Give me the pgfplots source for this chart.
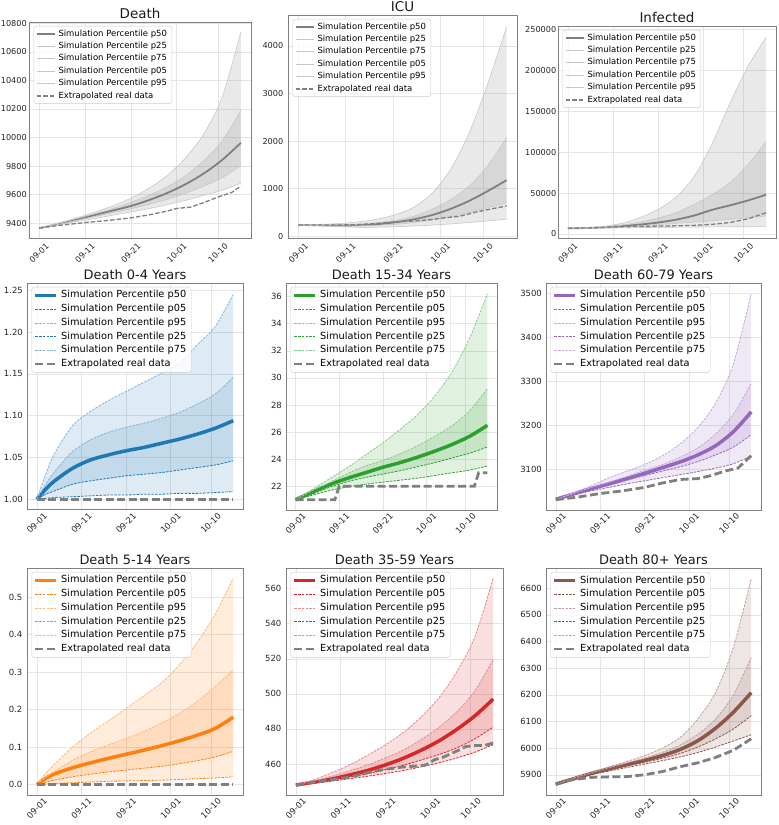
\documentclass[border=0pt]{standalone}
\usepackage{pgfplots}
\pgfplotsset{compat=1.18}
\usepackage{pgfplotstable}
\usepgfplotslibrary{fillbetween}
\usepackage{fontspec}
\setmainfont{DejaVu Sans}

\definecolor{tabblue}{HTML}{1F77B4}
\definecolor{taborange}{HTML}{FF7F0E}
\definecolor{tabgreen}{HTML}{2CA02C}
\definecolor{tabred}{HTML}{D62728}
\definecolor{tabpurple}{HTML}{9467BD}
\definecolor{tabbrown}{HTML}{8C564B}
\definecolor{tabgray}{HTML}{7F7F7F}

% ---------------- data ----------------
\pgfplotstableread{
x p50 p25 p75 p05 p95
0 9365 9365 9365 9365 9365
4 9393 9390 9397 9387 9400
8 9424 9418 9430 9410 9435
12 9456 9445 9465 9432 9475
16 9488 9472 9502 9455 9520
20 9520 9500 9545 9478 9575
24 9562 9532 9595 9502 9645
28 9612 9568 9655 9530 9735
32 9674 9610 9735 9560 9860
36 9750 9660 9840 9595 10030
40 9845 9720 9980 9632 10290
44 9963 9805 10190 9680 10740
}\Tdeath

\pgfplotstableread{
x p50 p25 p75 p05 p95
0 240 238 242 235 245
4 232 228 240 222 250
8 228 220 240 205 265
12 232 220 250 192 295
16 250 228 280 190 350
20 290 250 330 200 440
24 350 285 410 215 590
28 440 340 560 235 880
32 570 410 760 260 1380
36 740 500 1050 290 2150
40 950 600 1480 325 3200
44 1180 700 2080 360 4400
}\Ticu

\pgfplotstableread{
x p50 p25 p75 p05 p95
0 7000 7000 7000 7000 7000
4 7300 7200 7500 7000 7800
8 8200 7800 8800 7200 9500
12 9600 8700 11000 7500 13000
16 11500 10000 14500 7800 20000
20 14000 11500 19500 8100 30000
24 17500 13000 26000 8300 45000
28 22500 14500 36000 8500 70000
32 29500 16000 48000 8700 110000
36 35000 17800 63000 8800 160000
40 41000 19800 85000 8900 205000
44 48000 22000 113000 9000 240000
}\Tinf

\pgfplotstableread{
x p50 p05 p95 p25 p75
0 1.000 1.000 1.000 1.000 1.000
2 1.012 1.001 1.030 1.006 1.018
4 1.022 1.002 1.055 1.010 1.033
8 1.037 1.003 1.088 1.018 1.057
12 1.047 1.004 1.105 1.022 1.071
16 1.053 1.005 1.118 1.025 1.080
20 1.058 1.005 1.129 1.028 1.086
24 1.062 1.006 1.140 1.030 1.091
28 1.067 1.006 1.151 1.032 1.097
32 1.072 1.007 1.163 1.035 1.104
36 1.078 1.007 1.185 1.038 1.114
40 1.085 1.008 1.207 1.041 1.126
44 1.094 1.009 1.245 1.046 1.146
}\Tzero

\pgfplotstableread{
x p50 p05 p95 p25 p75
0 21.0 21.0 21.0 21.0 21.0
4 21.6 21.35 21.8 21.45 21.7
8 22.15 21.7 22.6 21.95 22.3
12 22.6 21.95 23.4 22.35 22.95
16 23.0 22.15 24.3 22.65 23.5
20 23.4 22.3 25.2 22.9 23.9
24 23.75 22.45 26.2 23.15 24.4
28 24.15 22.6 27.3 23.45 25.0
32 24.6 22.8 28.7 23.75 25.7
36 25.1 23.0 30.5 24.1 26.5
40 25.7 23.2 33.0 24.45 27.6
44 26.5 23.5 36.2 24.9 29.2
}\Tfifteen

\pgfplotstableread{
x p50 p05 p95 p25 p75
0 3031 3031 3031 3031 3031
4 3043 3041 3046 3042 3044
8 3055 3050 3062 3053 3058
12 3066 3058 3080 3063 3070
16 3078 3066 3095 3074 3083
20 3090 3073 3110 3085 3097
24 3103 3080 3130 3095 3110
28 3116 3087 3157 3105 3127
32 3132 3094 3195 3117 3148
36 3153 3102 3250 3132 3180
40 3185 3112 3340 3150 3225
44 3230 3130 3500 3178 3295
}\Tsixty

\pgfplotstableread{
x p50 p05 p95 p25 p75
0 0 0 0 0 0
2 0.017 0.0015 0.030 0.007 0.020
4 0.029 0.003 0.055 0.012 0.036
8 0.045 0.005 0.100 0.021 0.065
12 0.058 0.007 0.137 0.028 0.087
16 0.070 0.009 0.170 0.034 0.106
20 0.081 0.010 0.203 0.039 0.123
24 0.092 0.011 0.237 0.044 0.142
28 0.104 0.012 0.272 0.049 0.165
32 0.117 0.014 0.320 0.056 0.190
36 0.132 0.016 0.380 0.064 0.222
40 0.150 0.018 0.455 0.074 0.262
44 0.180 0.021 0.550 0.089 0.305
}\Tfive

\pgfplotstableread{
x p50 p05 p95 p25 p75
0 448.0 448.0 448.0 448.0 448.0
4 449.6 449.0 451.0 449.3 450.3
8 451.4 450.2 455.0 450.8 453.0
12 453.7 451.6 459.5 452.5 456.0
16 456.3 453.0 465.0 454.5 459.5
20 459.5 454.6 471.0 456.8 463.5
24 463.3 456.3 478.0 459.3 468.0
28 467.9 458.4 487.0 462.3 474.0
32 473.3 460.7 498.0 465.5 481.0
36 479.9 463.5 513.0 469.3 490.0
40 487.6 466.8 533.0 474.5 502.0
44 497.0 471.0 566.0 481.0 519.5
}\Tthirtyfive

\pgfplotstableread{
x p50 p05 p95 p25 p75
0 5865 5865 5865 5865 5865
4 5885 5883 5888 5884 5886
8 5905 5900 5910 5903 5907
12 5922 5914 5930 5919 5926
16 5938 5927 5950 5933 5944
20 5954 5940 5972 5947 5962
24 5972 5953 6000 5962 5984
28 5995 5967 6040 5980 6012
32 6028 5984 6110 6004 6052
36 6075 6004 6210 6035 6110
40 6135 6027 6380 6072 6200
44 6208 6050 6637 6122 6340
}\Teighty

% ---------------- plot macros ----------------
\newcommand{\topplots}[2]{%
  \addplot[draw=none, smooth, name path=lo5, forget plot] table[x=x,y=p05]{#1};
  \addplot[draw=none, smooth, name path=hi95, forget plot] table[x=x,y=p95]{#1};
  \addplot[draw=none, smooth, name path=lo25, forget plot] table[x=x,y=p25]{#1};
  \addplot[draw=none, smooth, name path=hi75, forget plot] table[x=x,y=p75]{#1};
  \addplot[fill=tabgray, fill opacity=0.17, draw=none, forget plot] fill between[of=lo5 and hi95];
  \addplot[fill=tabgray, fill opacity=0.17, draw=none, forget plot] fill between[of=lo25 and hi75];
  \addplot[tabgray, line width=1.8bp, smooth] table[x=x,y=p50]{#1};
  \addlegendentry{Simulation Percentile p50}
  \addplot[black!22, line width=0.6bp, smooth] table[x=x,y=p25]{#1};
  \addlegendentry{Simulation Percentile p25}
  \addplot[black!22, line width=0.6bp, smooth] table[x=x,y=p75]{#1};
  \addlegendentry{Simulation Percentile p75}
  \addplot[black!22, line width=0.6bp, smooth] table[x=x,y=p05]{#1};
  \addlegendentry{Simulation Percentile p05}
  \addplot[black!22, line width=0.6bp, smooth] table[x=x,y=p95]{#1};
  \addlegendentry{Simulation Percentile p95}
  \addplot[tabgray, line width=1.3bp, dash pattern=on 4.5bp off 2bp] coordinates {#2};
  \addlegendentry{Extrapolated real data}
}

\newcommand{\ageplots}[3]{%
  \addplot[draw=none, smooth, name path=lo5, forget plot] table[x=x,y=p05]{#1};
  \addplot[draw=none, smooth, name path=hi95, forget plot] table[x=x,y=p95]{#1};
  \addplot[draw=none, smooth, name path=lo25, forget plot] table[x=x,y=p25]{#1};
  \addplot[draw=none, smooth, name path=hi75, forget plot] table[x=x,y=p75]{#1};
  \addplot[fill=#2, fill opacity=0.15, draw=none, forget plot] fill between[of=lo5 and hi95];
  \addplot[fill=#2, fill opacity=0.15, draw=none, forget plot] fill between[of=lo25 and hi75];
  \addplot[#2, line width=3.5bp, smooth] table[x=x,y=p50]{#1};
  \addlegendentry{Simulation Percentile p50}
  \addplot[#2, line width=0.8bp, dash pattern=on 2.5bp off 1.2bp, smooth] table[x=x,y=p05]{#1};
  \addlegendentry{Simulation Percentile p05}
  \addplot[#2!55, line width=0.8bp, dash pattern=on 2.5bp off 1.2bp, smooth] table[x=x,y=p95]{#1};
  \addlegendentry{Simulation Percentile p95}
  \addplot[#2, line width=0.8bp, dash pattern=on 2.5bp off 1.2bp, smooth] table[x=x,y=p25]{#1};
  \addlegendentry{Simulation Percentile p25}
  \addplot[#2!55, line width=0.8bp, dash pattern=on 2.5bp off 1.2bp, smooth] table[x=x,y=p75]{#1};
  \addlegendentry{Simulation Percentile p75}
  \addplot[tabgray, line width=2.8bp, dash pattern=on 8bp off 3.5bp] coordinates {#3};
  \addlegendentry{Extrapolated real data}
}

% ---------------- styles ----------------
\pgfplotsset{
  panel/.style={
    scale only axis, anchor=south west,
    xmin=-2.2, xmax=46.2,
    xtick={0,10,20,30,39},
    xticklabels={09-01,09-11,09-21,10-01,10-10},
    grid=major,
    major grid style={line width=0.5bp, draw=black!10},
    axis line style={line width=0.7bp, draw=black!50},
    major tick length=0pt,
    /pgf/number format/assume math mode=true,
    /pgf/number format/fixed,
    /pgf/number format/1000 sep={},
    scaled y ticks=false,
    every axis title/.style={at={(0.5,1)}, anchor=base, yshift=3.5bp, inner sep=0pt, font=\fontsize{13}{15}\selectfont, text=black!90},
    tick label style={text=black!85},
    yticklabel style={anchor=east, inner sep=0pt},
    legend style={at={(0,1)}, anchor=north west, xshift=4.5bp, yshift=-4bp, draw=black!20, rounded corners=2.5bp, fill=white, fill opacity=0.8, text opacity=1, inner xsep=2bp, inner ysep=1.5bp},
    legend cell align=left,
  },
  toprow/.style={panel,
    tick label style={font=\fontsize{8.2}{10}\selectfont},
    xticklabel style={anchor=center, inner sep=0pt, yshift=-15bp, rotate=45},
    every axis title/.append style={font=\fontsize{13.5}{15}\selectfont},
    legend style={font=\fontsize{8.5}{10}\selectfont, nodes={text height=6.2bp, text depth=1.8bp, inner ysep=2.2bp, inner xsep=3bp}},
    legend image code/.code={\draw[##1] (0bp,0bp) -- (18bp,0bp);},
  },
  agerow/.style={panel,
    tick label style={font=\fontsize{8.5}{10}\selectfont},
    xticklabel style={anchor=center, inner sep=0pt, yshift=-13.5bp, rotate=45},
    legend style={font=\fontsize{9.8}{12}\selectfont, nodes={text height=6.9bp, text depth=2bp, inner ysep=2.4bp, inner xsep=3bp}},
    legend image code/.code={\draw[##1] (0bp,0bp) -- (21bp,0bp);},
  },
}

\begin{document}
\begin{tikzpicture}

% ---- row 1 ----
\begin{axis}[toprow, at={(29bp,587bp)}, width=222bp, height=216bp,
  ymin=9296, ymax=10809, ytick={9400,9600,...,10800},
  title={Death}, yticklabel style={xshift=-2bp}]
\topplots{\Tdeath}{(0,9365)(4,9383)(8,9397)(12,9410)(16,9422)(20,9437)(24,9458)(28,9485)(30,9503)(33,9512)(36,9545)(39,9583)(42,9615)(44,9660)}
\end{axis}

\begin{axis}[toprow, at={(288bp,587bp)}, width=229bp, height=223bp,
  ymin=-35, ymax=4650, ytick={0,1000,2000,3000,4000},
  title={ICU}, yticklabel style={xshift=-4.5bp}]
\topplots{\Ticu}{(0,240)(4,238)(8,236)(12,245)(16,265)(20,300)(24,320)(28,350)(30,380)(34,420)(38,520)(41,580)(44,640)}
\end{axis}

\begin{axis}[toprow, at={(558bp,587bp)}, width=218bp, height=212bp,
  ymin=-4880, ymax=254000, ytick={0,50000,100000,150000,200000,250000},
  yticklabels={0,50000,100000,150000,200000,250000},
  title={Infected}, yticklabel style={xshift=-1.5bp}]
\topplots{\Tinf}{(0,7000)(4,7300)(8,8000)(12,8800)(16,9300)(20,9700)(24,10000)(28,10500)(32,11800)(36,14000)(40,18500)(44,26000)}
\end{axis}

% ---- row 2 ----
\begin{axis}[agerow, at={(27bp,315.5bp)}, width=216bp, height=226.5bp,
  ymin=0.9877, ymax=1.2588, ytick={1.00,1.05,1.10,1.15,1.20,1.25},
  yticklabels={1.00,1.05,1.10,1.15,1.20,1.25},
  yticklabel style={xshift=-4bp},
  title={Death 0-4 Years}]
\ageplots{\Tzero}{tabblue}{(0,1)(44,1)}
\end{axis}

\begin{axis}[agerow, at={(286bp,315bp)}, width=211bp, height=227bp,
  ymin=20.25, ymax=37.0, ytick={22,24,...,36},
  yticklabel style={xshift=-4bp},
  title={Death 15-34 Years}]
\ageplots{\Tfifteen}{tabgreen}{(0,21)(9,21)(10,22)(41,22)(42,23)(44,23)}
\end{axis}

\begin{axis}[agerow, at={(546bp,315bp)}, width=215bp, height=227bp,
  ymin=3006.5, ymax=3523.5, ytick={3100,3200,3300,3400,3500},
  yticklabel style={xshift=-4bp},
  title={Death 60-79 Years}]
\ageplots{\Tsixty}{tabpurple}{(0,3030)(5,3036)(10,3044)(15,3050)(20,3058)(24,3068)(28,3076)(32,3078)(35,3085)(38,3095)(41,3102)(44,3130)}
\end{axis}

% ---- row 3 ----
\begin{axis}[agerow, at={(27bp,30bp)}, width=216bp, height=227bp,
  ymin=-0.0275, ymax=0.5775, ytick={0,0.1,0.2,0.3,0.4,0.5},
  yticklabels={0.0,0.1,0.2,0.3,0.4,0.5},
  yticklabel style={xshift=-4.5bp},
  title={Death 5-14 Years}]
\ageplots{\Tfive}{taborange}{(0,0)(44,0)}
\end{axis}

\begin{axis}[agerow, at={(286bp,30bp)}, width=217bp, height=227bp,
  ymin=442.3, ymax=571.8, ytick={460,480,...,560},
  yticklabel style={xshift=-4.5bp},
  title={Death 35-59 Years}]
\ageplots{\Tthirtyfive}{tabred}{(0,448)(4,449.5)(8,451)(12,452.5)(16,455)(20,457)(24,458.3)(28,459)(29,459.5)(31,462.5)(33,464)(36,467.5)(38,470)(40,470.5)(42,470.5)(44,472)}
\end{axis}

\begin{axis}[agerow, at={(546bp,30bp)}, width=215bp, height=227bp,
  ymin=5824, ymax=6676, ytick={5900,6000,...,6600},
  yticklabel style={xshift=-4bp},
  title={Death 80+ Years}]
\ageplots{\Teighty}{tabbrown}{(0,5863)(2,5875)(4,5882)(8,5890)(12,5892)(16,5893)(20,5900)(24,5912)(28,5930)(32,5945)(36,5965)(40,5992)(44,6035)}
\end{axis}

\pgfresetboundingbox
\useasboundingbox (0,0) rectangle (779bp,825bp);
\end{tikzpicture}
\end{document}
